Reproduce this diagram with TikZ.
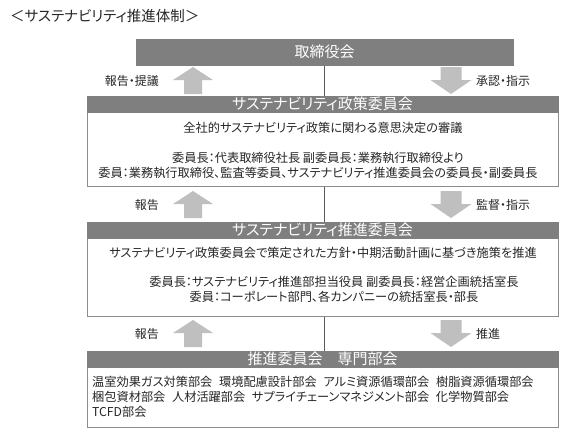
\documentclass[tikz,border=0pt]{standalone}
\usepackage{fontspec}
\setmainfont{Noto Sans CJK JP}[RawFeature=+palt]
\usetikzlibrary{backgrounds}
\definecolor{hdgray}{HTML}{7F7F7F}
\definecolor{argray}{HTML}{BFBFBF}
\definecolor{bdgray}{HTML}{8C8C8C}
\definecolor{txt}{HTML}{262626}
\definecolor{lngray}{HTML}{595959}
\newcommand\gapsp{\hspace{0.55em}}
\tikzset{
  hdbox/.style={fill=hdgray, draw=hdgray, line width=0.6pt, text=white,
    font=\fontsize{15}{18}\selectfont, inner sep=0pt, minimum width=471pt, minimum height=16pt},
  bodybox/.style={fill=white, draw=bdgray, line width=0.8pt, inner sep=0pt, minimum width=471pt},
  bodytext/.style={text=txt, font=\fontsize{12.2}{15}\selectfont, inner sep=0pt, align=center},
  lefttext/.style={text=txt, font=\fontsize{12.2}{15}\selectfont, inner sep=0pt, align=left, anchor=west},
  lbll/.style={text=txt, font=\fontsize{12}{14}\selectfont, inner sep=0pt, anchor=east},
  lblr/.style={text=txt, font=\fontsize{12}{14}\selectfont, inner sep=0pt, anchor=west},
  uparr/.pic={\fill[argray] (0,0) -- (20,13) -- (9,13) -- (9,27) -- (-9,27) -- (-9,13) -- (-20,13) -- cycle;},
  dnarr/.pic={\fill[argray] (-10.5,0) -- (10.5,0) -- (10.5,13) -- (20.5,13) -- (0,27) -- (-20.5,13) -- (-10.5,13) -- cycle;}
}
\begin{document}
\begin{tikzpicture}[x=1pt, y=-1pt]
\useasboundingbox (0,0) rectangle (562,432);

% title
\node[text=txt, font=\fontsize{14.5}{16}\selectfont, inner sep=0pt, anchor=west] (title) at (10,16) {＜サステナビリティ推進体制＞};

% board
\node[hdbox, minimum width=377pt, minimum height=26pt] (board) at (324.5,52) {取締役会};

% policy committee
\node[bodybox, minimum height=74pt] (polbody) at (322.5,149) {};
\node[hdbox] (polhead) at (322.5,104) {サステナビリティ政策委員会};
\node[bodytext] (poltext1) at (323,128) {全社的サステナビリティ政策に関わる意思決定の審議};
\node[bodytext] (poltext2) at (318,165.5) {委員長：代表取締役社長\ 副委員長：業務執行取締役より\\委員：業務執行取締役、監査等委員、サステナビリティ推進委員会の委員長・副委員長};

% promotion committee
\node[bodybox, minimum height=78pt] (probody) at (322.5,277) {};
\node[hdbox] (prohead) at (322.5,230) {サステナビリティ推進委員会};
\node[bodytext] (protext1) at (323,253) {サステナビリティ政策委員会で策定された方針・中期活動計画に基づき施策を推進};
\node[bodytext] (protext2) at (334,289.5) {委員長：サステナビリティ推進部担当役員\ 副委員長：経営企画統括室長\\委員：コーポレート部門、各カンパニーの統括室長・部長};

% sub-committees
\node[bodybox, minimum height=60pt] (botbody) at (322.5,397) {};
\node[hdbox] (bothead) at (322.5,359) {推進委員会　専門部会};
\node[lefttext] (bottext) at (92,397) {温室効果ガス対策部会\gapsp 環境配慮設計部会\gapsp アルミ資源循環部会\gapsp 樹脂資源循環部会\\梱包資材部会\gapsp 人材活躍部会\gapsp サプライチェーンマネジメント部会\gapsp 化学物質部会\\TCFD部会};

% arrows
\pic at (193,67) {uparr};
\pic at (451,67) {dnarr};
\node[lbll] (l1) at (159,81) {報告・提議};
\node[lblr] (r1) at (476,81) {承認・指示};

\pic at (193,191) {uparr};
\pic at (451,191) {dnarr};
\node[lbll] (l2) at (159,205) {報告};
\node[lblr] (r2) at (476,205) {監督・指示};

\pic at (193,320) {uparr};
\pic at (451,320) {dnarr};
\node[lbll] (l3) at (159,334) {報告};
\node[lblr] (r3) at (476,334) {推進};

\begin{scope}[on background layer]
\fill[white] (0,0) rectangle (562,432);
\draw[lngray, line width=0.6pt] (board.south) -- (board.south |- bothead.north);
\end{scope}
\end{tikzpicture}
\end{document}
